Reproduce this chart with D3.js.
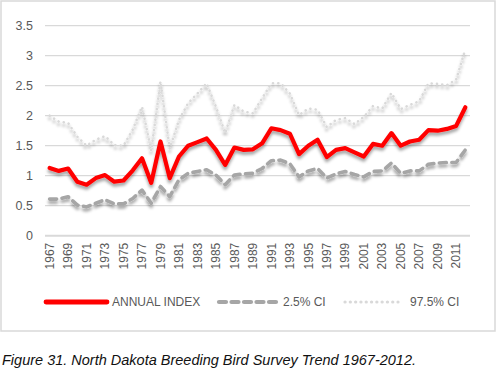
<!DOCTYPE html>
<html>
<head>
<meta charset="utf-8">
<script src="https://cdn.jsdelivr.net/npm/d3@7"></script>
<style>
  body { margin: 0; background: #fff; }
  text { font-family: "Liberation Sans", Arial, sans-serif; }
</style>
</head>
<body>
<svg id="chart" width="497" height="372"></svg>
<script>
// data
const years = d3.range(1967, 2013);
const annualIndex = [1.13, 1.08, 1.12, 0.90, 0.85, 0.96, 1.01, 0.90, 0.92, 1.09, 1.29,
  0.88, 1.57, 0.96, 1.32, 1.50, 1.56, 1.62, 1.43, 1.18, 1.47, 1.43, 1.44,
  1.54, 1.79, 1.76, 1.70, 1.36, 1.50, 1.60, 1.31, 1.43, 1.46, 1.39,
  1.32, 1.53, 1.50, 1.71, 1.50, 1.57, 1.60, 1.76, 1.75, 1.78, 1.83, 2.14];
const ciLow = [0.61, 0.61, 0.65, 0.51, 0.48, 0.54, 0.60, 0.53, 0.53, 0.62, 0.76,
  0.54, 0.82, 0.65, 0.93, 1.04, 1.07, 1.10, 1.01, 0.85, 1.01, 1.03, 1.04,
  1.12, 1.25, 1.26, 1.20, 0.98, 1.08, 1.12, 0.96, 1.03, 1.07, 1.02,
  0.98, 1.07, 1.08, 1.21, 1.04, 1.08, 1.08, 1.19, 1.21, 1.22, 1.22, 1.43];
const ciHigh = [2.00, 1.90, 1.88, 1.65, 1.50, 1.60, 1.66, 1.51, 1.50, 1.77, 2.15,
  1.42, 2.57, 1.45, 1.93, 2.21, 2.37, 2.54, 2.15, 1.71, 2.18, 2.07, 2.04,
  2.29, 2.54, 2.54, 2.37, 2.01, 2.12, 2.10, 1.81, 1.93, 1.96, 1.86,
  1.98, 2.16, 2.12, 2.38, 2.11, 2.18, 2.24, 2.54, 2.53, 2.51, 2.60, 3.11];
const yTicks = [0, 0.5, 1, 1.5, 2, 2.5, 3, 3.5];
const caption = "Figure 31. North Dakota Breeding Bird Survey Trend 1967-2012.";

const svg = d3.select("#chart");

// outer chart frame
svg.append("rect")
  .attr("x", 1).attr("y", 1).attr("width", 494).attr("height", 330)
  .attr("fill", "#fff").attr("stroke", "#d9d9d9").attr("stroke-width", 1.5);

const plot = { left: 45, right: 470, top: 25.7, bottom: 235.7 };

const x = d3.scaleBand().domain(years).range([plot.left, plot.right]);
const y = d3.scaleLinear().domain([0, 3.5]).range([plot.bottom, plot.top]);

// soft shadow like the spreadsheet lines
const defs = svg.append("defs");
defs.append("filter").attr("id", "shadow")
  .attr("x", "-10%").attr("y", "-30%").attr("width", "120%").attr("height", "160%")
  .append("feDropShadow")
  .attr("dx", 0).attr("dy", 3).attr("stdDeviation", 1.8)
  .attr("flood-color", "#000").attr("flood-opacity", 0.35);

// grid
svg.append("g").selectAll("line")
  .data(yTicks)
  .enter().append("line")
  .attr("x1", plot.left).attr("x2", plot.right)
  .attr("y1", d => y(d)).attr("y2", d => y(d))
  .attr("stroke", "#d9d9d9")
  .attr("stroke-width", d => d === 0 ? 2 : 1.3);

// y axis labels
const yAxis = d3.axisLeft(y).tickValues(yTicks).tickSize(0).tickPadding(12)
  .tickFormat(d => d3.format("")(d));
svg.append("g")
  .attr("transform", `translate(${plot.left},0)`)
  .call(yAxis)
  .call(g => g.select(".domain").remove())
  .call(g => g.selectAll("text")
    .attr("fill", "#595959").style("font-size", "12.5px")
    .style("font-family", "'Liberation Sans', Arial, sans-serif"));

// x axis labels, every other year, rotated
const xAxis = d3.axisBottom(x)
  .tickValues(years.filter(d => (d - 1967) % 2 === 0))
  .tickSize(0);
svg.append("g")
  .attr("transform", `translate(0,${plot.bottom})`)
  .call(xAxis)
  .call(g => g.select(".domain").remove())
  .call(g => g.selectAll("text")
    .attr("fill", "#595959").style("font-size", "12px")
    .style("font-family", "'Liberation Sans', Arial, sans-serif")
    .attr("transform", "rotate(-90)")
    .attr("text-anchor", "end")
    .attr("x", -7).attr("y", 0).attr("dy", "0.35em"));

const series = [
  { name: "97.5% CI", values: ciHigh, color: "#d9d9d9", width: 2.6, dash: "0.1 5.2" },
  { name: "2.5% CI", values: ciLow, color: "#a6a6a6", width: 3.6, dash: "7 5.5" },
  { name: "ANNUAL INDEX", values: annualIndex, color: "#ff0000", width: 4.2, dash: null }
];

const line = d3.line()
  .x((d, i) => x(years[i]) + x.bandwidth() / 2)
  .y(d => y(d));

svg.append("g").attr("filter", "url(#shadow)")
  .selectAll("path")
  .data(series)
  .enter().append("path")
  .attr("d", d => line(d.values))
  .attr("fill", "none")
  .attr("stroke", d => d.color)
  .attr("stroke-width", d => d.width)
  .attr("stroke-linecap", "round")
  .attr("stroke-linejoin", "round")
  .attr("stroke-dasharray", d => d.dash);

// legend
const legendItems = [
  { s: series[2], x1: 46, x2: 107, tx: 112 },
  { s: series[1], x1: 219, x2: 278, tx: 283 },
  { s: series[0], x1: 345, x2: 398, tx: 410 }
];
const legend = svg.append("g");
legend.selectAll("line")
  .data(legendItems)
  .enter().append("line")
  .attr("x1", d => d.x1).attr("x2", d => d.x2)
  .attr("y1", 302).attr("y2", 302)
  .attr("stroke", d => d.s.color)
  .attr("stroke-width", d => d.s.width + 0.6)
  .attr("stroke-linecap", "round")
  .attr("stroke-dasharray", d => d.s.dash);
legend.selectAll("text")
  .data(legendItems)
  .enter().append("text")
  .attr("x", d => d.tx).attr("y", 302).attr("dy", "0.35em")
  .attr("fill", "#595959").style("font-size", "12px")
  .text(d => d.s.name);

// caption
svg.append("text")
  .attr("x", 2).attr("y", 365)
  .style("font-style", "italic").style("font-size", "14.5px")
  .attr("fill", "#111")
  .text(caption);
</script>
</body>
</html>
